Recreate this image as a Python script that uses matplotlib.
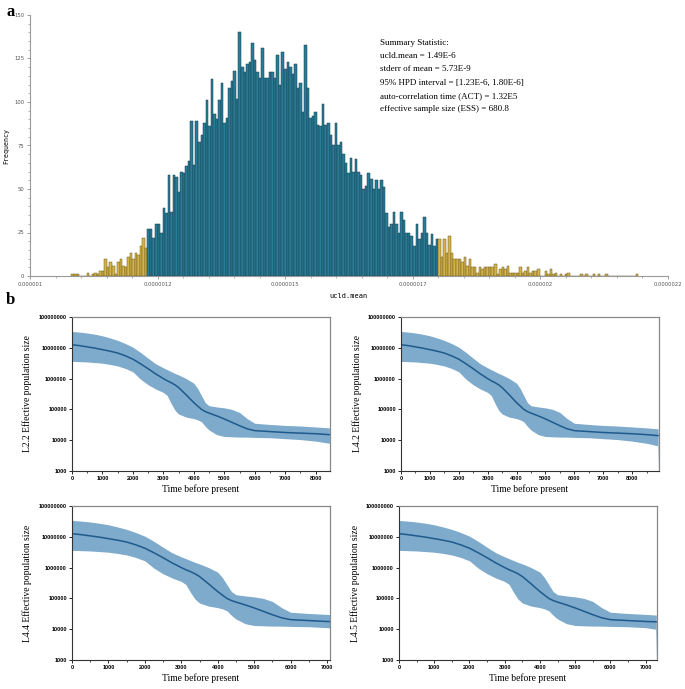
import matplotlib
matplotlib.use('Agg')
import matplotlib.pyplot as plt
import numpy as np
from matplotlib.ticker import MultipleLocator, FixedLocator, FixedFormatter, NullLocator

# ---- panel a : ucld.mean histogram ----
left_tail = [1, 1, 1, 0, 0, 0, 2, 0, 1, 2, 1, 3, 3, 10, 5, 8, 6, 1, 8, 10, 6, 5, 11, 13, 10, 13, 12, 17, 22, 16]
hpd_counts = [27, 27, 22, 30, 30, 25, 39, 36, 58, 37, 58, 57, 48, 60, 59, 63, 66, 89, 64, 89, 77, 81, 88, 101,
              86, 113, 93, 90, 101, 111, 88, 91, 108, 112, 118, 102, 140, 120, 117, 122,
              123, 134, 124, 117, 114, 131, 114, 114, 117, 117, 114, 127, 110, 129, 119, 123, 120, 116, 122,
              108, 111, 94, 133, 108, 91, 92, 94, 87, 86, 99, 87, 88, 81, 75, 88,
              75, 77, 70, 65, 59, 68, 60, 67, 60, 58, 50, 52, 59, 56, 50, 55, 50, 55, 51, 36, 28, 30, 37,
              30, 25, 37, 32, 25, 25, 23, 17, 30, 21, 25, 34, 25, 18, 24, 17, 21]
right_tail = [21, 11, 21, 13, 23, 13, 10, 10, 10, 8, 11, 6, 10, 5, 5, 2, 5, 4, 5, 5, 5, 5, 7, 1, 4, 5, 4, 6,
              2, 2, 2, 2, 5, 2, 3, 5, 2, 3, 3, 4, 0, 0, 3, 1, 4, 1, 2, 0, 1, 0, 1, 2, 0, 0, 0, 0, 1, 0, 1,
              0, 0, 1, 0, 1, 0, 0, 1, 0, 0, 0, 0, 0, 0, 0, 0, 0, 0, 0, 1]
hpd_low, hpd_high = 1.23e-6, 1.80e-6
hist_xticks = [1.0e-6, 1.25e-6, 1.5e-6, 1.75e-6, 2.0e-6, 2.25e-6]
hist_xticklabels = ['0.000001', '0.0000012', '0.0000015', '0.0000017', '0.000002', '0.0000022']
summary = ['Summary Statistic:',
           'ucld.mean = 1.49E-6',
           'stderr of mean = 5.73E-9',
           '95% HPD interval = [1.23E-6, 1.80E-6]',
           'auto-correlation time (ACT) = 1.32E5',
           'effective sample size (ESS) = 680.8']

# ---- panel b : skyline plots (values are log10 Ne) ----
times = [0, 250, 500, 750, 1000, 1250, 1500, 1750, 2000, 2250, 2500, 2750, 3000, 3125, 3250, 3375, 3500,
         3750, 4000, 4125, 4250, 4375, 4500, 4750, 5000, 5250, 5500, 5750, 6000, 6500, 7000]
log_median = [7.10, 7.07, 7.03, 6.99, 6.94, 6.89, 6.83, 6.74, 6.63, 6.48, 6.32, 6.15, 6.00, 5.93, 5.87, 5.80,
              5.71, 5.47, 5.22, 5.11, 5.00, 4.93, 4.88, 4.79, 4.69, 4.58, 4.47, 4.37, 4.31, 4.28, 4.25]
log_upper = [7.53, 7.51, 7.48, 7.44, 7.39, 7.32, 7.24, 7.14, 7.02, 6.85, 6.66, 6.48, 6.35, 6.29, 6.23, 6.17,
             6.12, 6.00, 5.85, 5.68, 5.45, 5.22, 5.12, 5.08, 5.05, 5.00, 4.90, 4.70, 4.55, 4.51, 4.48]
log_lower = [6.56, 6.55, 6.54, 6.52, 6.50, 6.46, 6.41, 6.33, 6.22, 5.98, 5.80, 5.66, 5.55, 5.45, 5.20, 4.98,
             4.85, 4.75, 4.70, 4.66, 4.60, 4.45, 4.33, 4.18, 4.12, 4.11, 4.10, 4.10, 4.09, 4.08, 4.05]

panel_names = ['L2.2', 'L4.2', 'L4.4', 'L4.5']
panel_xmax = [8470, 8930, 7080, 7320]
tail_times = [[7500, 8000, 8450], [7500, 8000, 8500, 8880, 8900], [7080], [7280, 7300]]
tail_median = [[4.23, 4.21, 4.18], [4.23, 4.21, 4.18, 4.15, 4.15], [4.25], [4.24, 4.24]]
tail_upper = [[4.46, 4.43, 4.40], [4.46, 4.43, 4.40, 4.37, 4.37], [4.47], [4.46, 4.46]]
tail_lower = [[4.02, 3.97, 3.90], [4.02, 3.97, 3.90, 3.82, 3.0], [4.04], [4.0, 3.0]]

W, H = 685, 689
fig = plt.figure(figsize=(W / 100, H / 100), dpi=100)
serif = ['Liberation Serif', 'DejaVu Serif']
sans = ['Liberation Sans', 'DejaVu Sans']

def px_axes(x0, y0, x1, y1):
  return fig.add_axes([x0 / W, 1 - y1 / H, (x1 - x0) / W, (y1 - y0) / H])

# histogram
ax = px_axes(30, 15, 668, 276)
counts = left_tail + hpd_counts + right_tail
bin_w = (hpd_high - hpd_low) / len(hpd_counts)
start = hpd_low - len(left_tail) * bin_w
edges = [start + i * bin_w for i in range(len(counts))]
cols = ['#d4b44a'] * len(left_tail) + ['#2a7c96'] * len(hpd_counts) + ['#d4b44a'] * len(right_tail)
ecols = ['#6e5c22'] * len(left_tail) + ['#173f4d'] * len(hpd_counts) + ['#6e5c22'] * len(right_tail)
ax.bar(edges, counts, width=bin_w, align='edge', color=cols, edgecolor=ecols, linewidth=0.35)
ax.set_xlim(1.0e-6, 2.25e-6)
ax.set_ylim(0, 150)
ax.xaxis.set_major_locator(FixedLocator(hist_xticks))
ax.xaxis.set_major_formatter(FixedFormatter(hist_xticklabels))
ax.xaxis.set_minor_locator(MultipleLocator(0.05e-6))
ax.yaxis.set_major_locator(MultipleLocator(25))
ax.yaxis.set_minor_locator(MultipleLocator(5))
for s in ['top', 'right']:
  ax.spines[s].set_visible(False)
for s in ['left', 'bottom']:
  ax.spines[s].set_color('#999999')
  ax.spines[s].set_linewidth(0.8)
ax.tick_params(which='major', length=2.5, width=0.5, color='#777777', labelsize=3.8, labelcolor='#555555', pad=1.5)
ax.tick_params(which='minor', length=1.3, width=0.4, color='#777777')
ax.set_ylabel('Frequency', fontsize=4.8, family='DejaVu Sans Mono', labelpad=4)
ax.set_xlabel('ucld.mean', fontsize=5, family='DejaVu Sans Mono', labelpad=5)
for i, line in enumerate(summary):
  fig.text(380 / W, 1 - (43 + 13.2 * i) / H, line, fontsize=6.5, family=serif, va='center', ha='left')

fig.text(6 / W, 1 - 4 / H, 'a', fontsize=12, fontweight='bold', family=serif, va='top')
fig.text(6 / W, 1 - 292 / H, 'b', fontsize=12, fontweight='bold', family=serif, va='top')

# skyline panels
boxes = [(72, 317, 330, 471), (401, 317, 659, 471), (72, 506, 330, 660), (399, 506, 657, 660)]
for k, name in enumerate(panel_names):
  ax = px_axes(*boxes[k])
  t = times + tail_times[k]
  med = 10 ** np.array(log_median + tail_median[k])
  hi = 10 ** np.array(log_upper + tail_upper[k])
  lo = 10 ** np.array(log_lower + tail_lower[k])
  ax.fill_between(t, lo, hi, color='#7eaacb', linewidth=0)
  ax.plot(t, med, color='#1f5a8c', linewidth=1.1)
  ax.set_yscale('log')
  ax.set_ylim(1e3, 1e8)
  ax.set_xlim(0, panel_xmax[k])
  ax.yaxis.set_major_locator(FixedLocator([1e3, 1e4, 1e5, 1e6, 1e7, 1e8]))
  ax.yaxis.set_major_formatter(FixedFormatter(['1000', '10000', '100000', '1000000', '10000000', '100000000']))
  ax.yaxis.set_minor_locator(NullLocator())
  ax.xaxis.set_major_locator(MultipleLocator(1000))
  ax.xaxis.set_minor_locator(MultipleLocator(500))
  ax.tick_params(which='major', length=2.5, width=0.6, labelsize=4.0, pad=1.2, direction='out')
  ax.tick_params(which='minor', length=1.5, width=0.5)
  for lab in ax.get_xticklabels() + ax.get_yticklabels():
    lab.set_fontweight('bold')
    lab.set_family(sans)
  for s in ['left', 'bottom']:
    ax.spines[s].set_color('#333333')
    ax.spines[s].set_linewidth(0.8)
  for s in ['top', 'right']:
    ax.spines[s].set_color('#888888')
    ax.spines[s].set_linewidth(0.9)
  ax.set_xlabel('Time before present', fontsize=6.9, family=serif, labelpad=2)
  ax.set_ylabel(name + ' Effective population size', fontsize=6.9, family=serif)
  ax.yaxis.set_label_coords(-39.5 / 258, 0.5)

fig.savefig('out.png', dpi=100)
